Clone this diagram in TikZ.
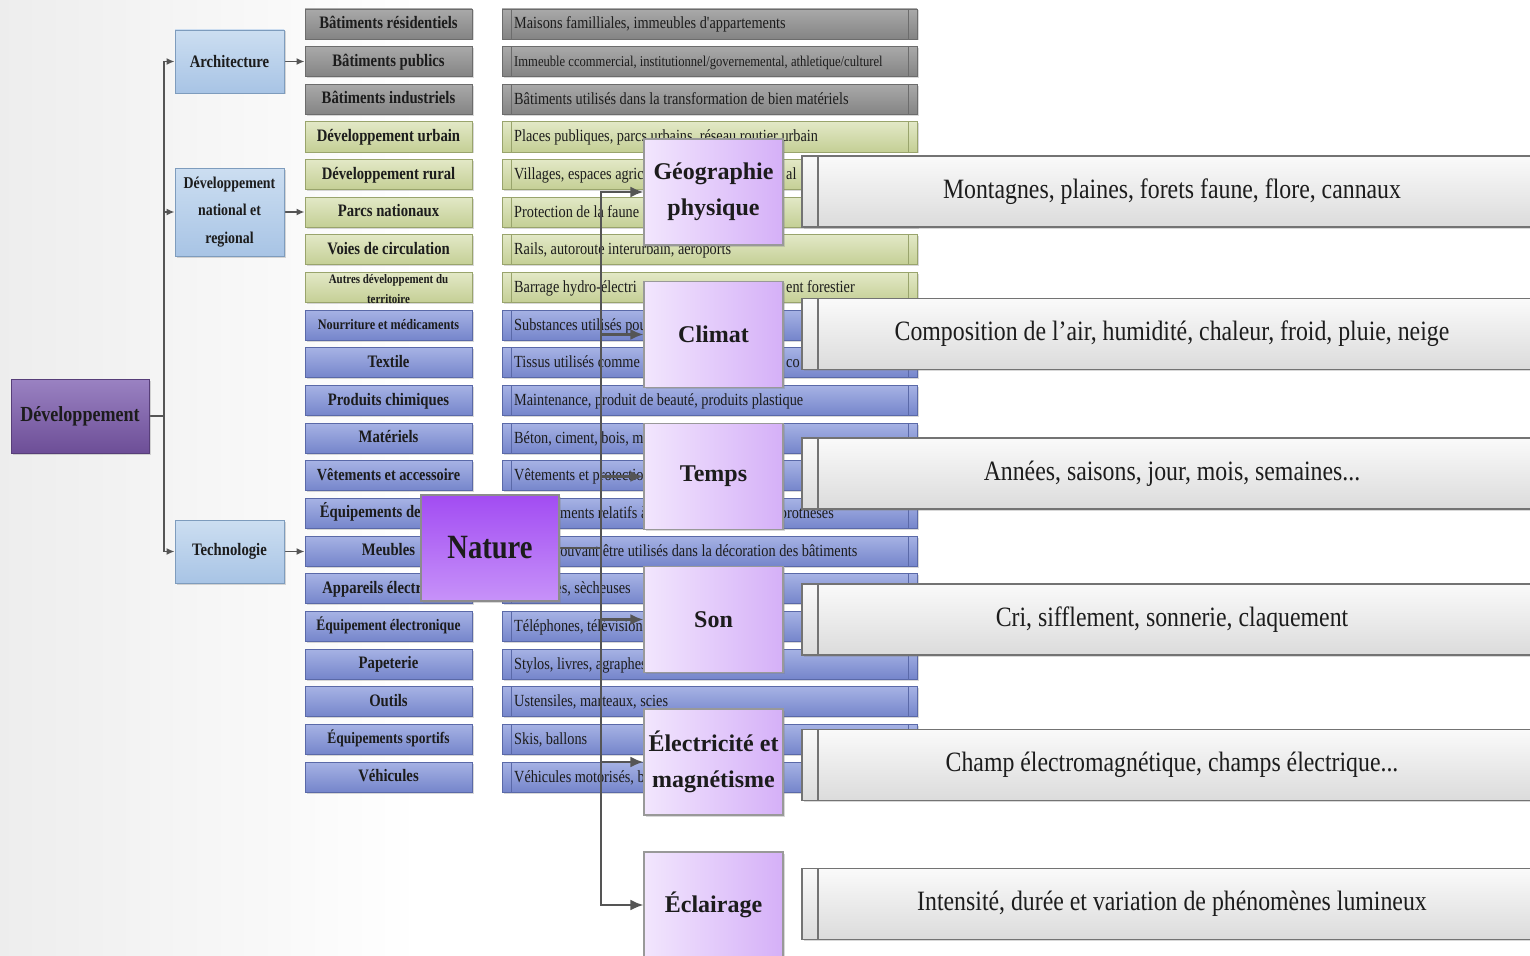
\documentclass[tikz,border=0pt]{standalone}
\usepackage{fontspec}
\setmainfont{Liberation Serif}
\newfontfamily\cnd{Liberation Serif}[FakeStretch=0.84]
\newfontfamily\cndx{Liberation Serif}[FakeStretch=0.85]
\usetikzlibrary{arrows.meta,shadows,calc}
\pgfdeclarelayer{bg}
\pgfdeclarelayer{mid}
\pgfsetlayers{bg,mid,main}
\definecolor{conn}{HTML}{555555}
\definecolor{gtop}{HTML}{A9A9A9}\definecolor{gbot}{HTML}{848484}\definecolor{gbrd}{HTML}{6C6C6C}
\definecolor{otop}{HTML}{E2E8C6}\definecolor{obot}{HTML}{C4CF95}\definecolor{obrd}{HTML}{99A46C}
\definecolor{btop}{HTML}{A6B2E4}\definecolor{bbot}{HTML}{7585CB}\definecolor{bbrd}{HTML}{5A69A8}
\definecolor{lbtop}{HTML}{CCDEF1}\definecolor{lbbot}{HTML}{A8C4E5}\definecolor{lbbrd}{HTML}{7E9CBD}
\definecolor{dvtop}{HTML}{9A82C2}\definecolor{dvbot}{HTML}{6D4E97}
\definecolor{natop}{HTML}{A24CF2}\definecolor{nabot}{HTML}{C792F9}
\definecolor{phl}{HTML}{F2E6FD}\definecolor{phr}{HTML}{D5B0F8}
\definecolor{txt}{HTML}{1C1C1C}
\newcommand\rowy[1]{24+(#1-1)*37.65}
\begin{document}
\begin{tikzpicture}[x=1pt,y=-1pt,
  shad/.style={drop shadow={shadow xshift=1.5pt,shadow yshift=-1.5pt,opacity=0.3}},
  boxb/.style={shad,rectangle,line width=0.9pt,inner sep=0pt,text=txt},
  grayb/.style={boxb,top color=gtop,bottom color=gbot,draw=gbrd},
  oliveb/.style={boxb,top color=otop,bottom color=obot,draw=obrd},
  blueb/.style={boxb,top color=btop,bottom color=bbot,draw=bbrd},
  lcol/.style={minimum width=167,minimum height=30,text height=12,text depth=3,font=\cnd\bfseries},
  tabs/.style={path picture={\draw[#1,line width=0.9pt]
      ([xshift=9pt]path picture bounding box.north west) -- ([xshift=9pt]path picture bounding box.south west)
      ([xshift=-9pt]path picture bounding box.north east) -- ([xshift=-9pt]path picture bounding box.south east);}},
  rcol/.style={minimum width=415,minimum height=30},
  rtxt/.style={anchor=west,inner sep=0pt,text height=12,text depth=2,text=txt,font=\cnd\fontsize{17}{17}\selectfont},
  lblue/.style={boxb,top color=lbtop,bottom color=lbbot,draw=lbbrd,minimum width=109,align=center,font=\cnd\bfseries\fontsize{17.5}{27}\selectfont},
  phys/.style={shad,rectangle,draw=black!40,line width=1.1pt,left color=phl,right color=phr,minimum width=139,minimum height=106,align=center,text=txt,font=\bfseries\fontsize{24}{36}\selectfont},
  bigb/.style={shad,rectangle,draw=black!55,line width=1.1pt,top color=black!2,bottom color=black!14,minimum width=740,minimum height=71,text=txt,font=\cndx\fontsize{28}{28}\selectfont,
      path picture={\draw[black!55,line width=1.1pt] ([xshift=16pt]path picture bounding box.north west) -- ([xshift=16pt]path picture bounding box.south west);}},
  cline/.style={draw=conn,line width=1.8pt},
  arr/.style={cline,-{Latex[length=8pt,width=7pt]}},
  bigarr/.style={draw=conn,line width=2.2pt,-{Latex[length=13pt,width=11pt]}}
]
\clip (0,0) rectangle (1530,955);
\begin{pgfonlayer}{bg}
\shade[left color=black!7,right color=white] (0,0) rectangle (420,955);
\fill[white] (420,0) rectangle (1530,955);
% left column
\node[lcol,grayb] (l1) at (388.5,{\rowy{1}}) {\fontsize{17.5}{17.5}\selectfont Bâtiments résidentiels};
\node[lcol,grayb] (l2) at (388.5,{\rowy{2}}) {\fontsize{17.5}{17.5}\selectfont Bâtiments publics};
\node[lcol,grayb] (l3) at (388.5,{\rowy{3}}) {\fontsize{17.5}{17.5}\selectfont Bâtiments industriels};
\node[lcol,oliveb] (l4) at (388.5,{\rowy{4}}) {\fontsize{17.5}{17.5}\selectfont Développement urbain};
\node[lcol,oliveb] (l5) at (388.5,{\rowy{5}}) {\fontsize{17.5}{17.5}\selectfont Développement rural};
\node[lcol,oliveb] (l6) at (388.5,{\rowy{6}}) {\fontsize{17.5}{17.5}\selectfont Parcs nationaux};
\node[lcol,oliveb] (l7) at (388.5,{\rowy{7}}) {\fontsize{17.5}{17.5}\selectfont Voies de circulation};
\node[lcol,oliveb] (l8) at (388.5,{\rowy{8}}) {};
\node[align=center,inner sep=0pt,font=\cnd\bfseries\fontsize{13}{20}\selectfont,text=txt] (l8t) at (388.5,{\rowy{8}+1}) {Autres développement du\\territoire};
\node[lcol,blueb] (l9) at (388.5,{\rowy{9}}) {\fontsize{14.5}{14.5}\selectfont Nourriture et médicaments};
\node[lcol,blueb] (l10) at (388.5,{\rowy{10}}) {\fontsize{17.5}{17.5}\selectfont Textile};
\node[lcol,blueb] (l11) at (388.5,{\rowy{11}}) {\fontsize{17.5}{17.5}\selectfont Produits chimiques};
\node[lcol,blueb] (l12) at (388.5,{\rowy{12}}) {\fontsize{17.5}{17.5}\selectfont Matériels};
\node[lcol,blueb] (l13) at (388.5,{\rowy{13}}) {\fontsize{17}{17}\selectfont Vêtements et accessoire};
\node[lcol,blueb] (l14) at (388.5,{\rowy{14}}) {\fontsize{17.5}{17.5}\selectfont Équipements de santé};
\node[lcol,blueb] (l15) at (388.5,{\rowy{15}}) {\fontsize{17.5}{17.5}\selectfont Meubles};
\node[lcol,blueb] (l16) at (388.5,{\rowy{16}}) {\fontsize{17.5}{17.5}\selectfont Appareils électriques};
\node[lcol,blueb] (l17) at (388.5,{\rowy{17}}) {\fontsize{16}{16}\selectfont Équipement électronique};
\node[lcol,blueb] (l18) at (388.5,{\rowy{18}}) {\fontsize{17.5}{17.5}\selectfont Papeterie};
\node[lcol,blueb] (l19) at (388.5,{\rowy{19}}) {\fontsize{17.5}{17.5}\selectfont Outils};
\node[lcol,blueb] (l20) at (388.5,{\rowy{20}}) {\fontsize{16}{16}\selectfont Équipements sportifs};
\node[lcol,blueb] (l21) at (388.5,{\rowy{21}}) {\fontsize{17.5}{17.5}\selectfont Véhicules};
% right column
\foreach \i in {1,2,3}{\node[rcol,grayb,tabs=gbrd] (r\i) at (709.5,{\rowy{\i}}) {};}
\foreach \i in {4,...,8}{\node[rcol,oliveb,tabs=obrd] (r\i) at (709.5,{\rowy{\i}}) {};}
\foreach \i in {9,...,21}{\node[rcol,blueb,tabs=bbrd] (r\i) at (709.5,{\rowy{\i}}) {};}
\node[rtxt] (rt1) at (514,{\rowy{1}}) {Maisons familliales, immeubles d'appartements};
\node[rtxt,font=\cnd\fontsize{15}{15}\selectfont] (rt2) at (514,{\rowy{2}}) {Immeuble ccommercial, institutionnel/governemental, athletique/culturel};
\node[rtxt] (rt3) at (514,{\rowy{3}}) {Bâtiments utilisés dans la transformation de bien matériels};
\node[rtxt] (rt4) at (514,{\rowy{4}}) {Places publiques, parcs urbains, réseau routier urbain};
\node[rtxt] (rt5) at (514,{\rowy{5}}) {Villages, espaces agric};
\node[rtxt] (rt5b) at (786,{\rowy{5}}) {al};
\node[rtxt] (rt6) at (514,{\rowy{6}}) {Protection de la faune};
\node[rtxt] (rt7) at (514,{\rowy{7}}) {Rails, autoroute interurbain, aéroports};
\node[rtxt] (rt8) at (514,{\rowy{8}}) {Barrage hydro-électri};
\node[rtxt] (rt8b) at (786,{\rowy{8}}) {ent forestier};
\node[rtxt] (rt9) at (514,{\rowy{9}}) {Substances utilisés pour};
\node[rtxt] (rt10) at (514,{\rowy{10}}) {Tissus utilisés comme};
\node[rtxt] (rt10b) at (786,{\rowy{10}}) {co};
\node[rtxt] (rt11) at (514,{\rowy{11}}) {Maintenance, produit de beauté, produits plastique};
\node[rtxt] (rt12) at (514,{\rowy{12}}) {Béton, ciment, bois, m};
\node[rtxt] (rt13) at (514,{\rowy{13}}) {Vêtements et protection};
\node[rtxt] (rt14) at (560,{\rowy{14}}) {ments relatifs à};
\node[rtxt,anchor=east] (rt14b) at (834,{\rowy{14}}) {prothèses};
\node[rtxt] (rt15) at (553,{\rowy{15}}) {pouvant être utilisés dans la décoration des bâtiments};
\node[rtxt] (rt16) at (514,{\rowy{16}}) {Laveuses, sècheuses};
\node[rtxt] (rt17) at (514,{\rowy{17}}) {Téléphones, télévisions};
\node[rtxt] (rt18) at (514,{\rowy{18}}) {Stylos, livres, agraphes};
\node[rtxt] (rt19) at (514,{\rowy{19}}) {Ustensiles, marteaux, scies};
\node[rtxt] (rt20) at (514,{\rowy{20}}) {Skis, ballons};
\node[rtxt] (rt21) at (514,{\rowy{21}}) {Véhicules motorisés, b};
\end{pgfonlayer}
% main-level nodes
\node[boxb,top color=dvtop,bottom color=dvbot,draw=dvbot!80!black,minimum width=138,minimum height=74,font=\cnd\bfseries\fontsize{21.5}{21.5}\selectfont] (dev) at (80,416) {Développement};
\node[lblue,minimum height=63] (arch) at (229.5,61.5) {Architecture};
\node[lblue,minimum height=88,font=\cnd\bfseries\fontsize{16.5}{27.5}\selectfont] (dnr) at (229.5,212) {Développement\\national et\\regional};
\node[lblue,minimum height=63] (tech) at (229.5,551.5) {Technologie};
\node[shad,rectangle,draw=black!45,line width=1.1pt,top color=natop,bottom color=nabot,minimum width=138,minimum height=106,text=txt,font=\cnd\bfseries\fontsize{34}{34}\selectfont] (nat) at (490,548) {Nature};
\node[phys] (geo) at (713.5,192) {Géographie\\physique};
\node[phys] (clim) at (713.5,334.5) {Climat};
\node[phys] (temps) at (713.5,476.5) {Temps};
\node[phys] (son) at (713.5,619.5) {Son};
\node[phys] (elec) at (713.5,762) {Électricité et\\magnétisme};
\node[phys] (ecl) at (713.5,905) {Éclairage};
\node[bigb] (g1) at (1172,191.5) {Montagnes, plaines, forets faune, flore, cannaux};
\node[bigb] (g2) at (1172,334) {Composition de l’air, humidité, chaleur, froid, pluie, neige};
\node[bigb] (g3) at (1172,473.5) {Années, saisons, jour, mois, semaines...};
\node[bigb] (g4) at (1172,619.5) {Cri, sifflement, sonnerie, claquement};
\node[bigb] (g5) at (1172,765) {Champ électromagnétique, champs électrique...};
\node[bigb] (g6) at (1172,904) {Intensité, durée et variation de phénomènes lumineux};
% connectors
\begin{pgfonlayer}{mid}
\coordinate (tj) at (164,416);
\draw[cline] (dev.east) -- (tj);
\draw[arr] (tj) |- (arch.west);
\draw[arr] (tj) |- (dnr.west);
\draw[arr] (tj) |- (tech.west);
\draw[arr] (arch.east) -- (arch.east -| l2.west);
\draw[arr] (dnr.east) -- (dnr.east -| l6.west);
\draw[arr] (tech.east) -- (tech.east -| l15.west);
\coordinate (nj) at (601,548);
\draw[cline,line width=2.2pt] (nat.east) -- (nj);
\draw[bigarr] (nj) |- (geo.west);
\draw[bigarr] (nj) |- (clim.west);
\draw[bigarr] (nj) |- (temps.west);
\draw[bigarr] (nj) |- (son.west);
\draw[bigarr] (nj) |- (elec.west);
\draw[bigarr] (nj) |- (ecl.west);
\end{pgfonlayer}
\end{tikzpicture}
\end{document}
